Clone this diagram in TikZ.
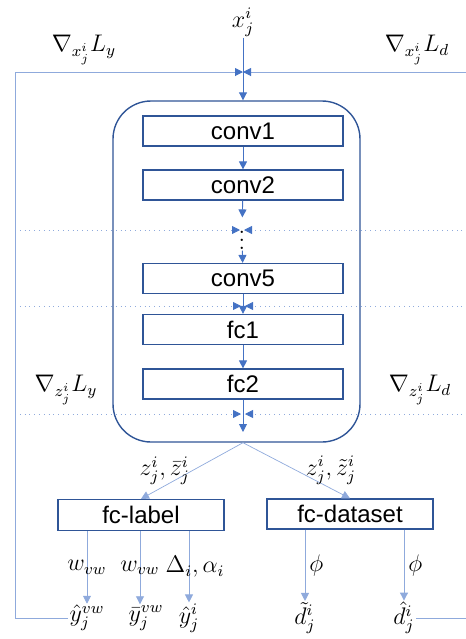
\documentclass[tikz,border=0pt]{standalone}
\usepackage{amsmath}
\usepackage{amssymb}
\usepackage{fontspec}
\newfontfamily\boxfont{Liberation Sans}
\usepackage{tikz}
\usetikzlibrary{positioning, shapes, arrows.meta}
\definecolor{boxblue}{RGB}{47,85,151}
\definecolor{arrowblue}{RGB}{68,114,196}
\definecolor{thinblue}{RGB}{143,170,220}

\begin{document}
\begin{tikzpicture}[x=0.5pt,y=-0.5pt,
>={Triangle[length=4pt,width=4pt]},
layer/.style={draw=boxblue,line width=0.6pt,minimum width=100pt,minimum height=15pt,inner sep=0pt,text=black,font=\boxfont\fontsize{12}{14}\selectfont},
netbox/.style={draw=boxblue,line width=0.7pt,rounded corners=19pt,minimum width=123.5pt,minimum height=170.5pt},
flow/.style={arrowblue,line width=0.45pt,->},
outline/.style={thinblue,line width=0.5pt},
gradback/.style={thinblue,line width=0.5pt,-{Triangle[length=4pt,width=4pt,color=arrowblue]}},
gradline/.style={thinblue,line width=0.4pt,dotted,-{Triangle[length=4pt,width=4pt,color=arrowblue]},shorten >=1pt},
mlabel/.style={font=\large,inner sep=0.5pt,text=black}
]
\useasboundingbox (0,0) rectangle (466,639);

% network
\node[netbox] (net) at (236.5,271.5) {};
\node[layer] (conv1) at (243,131) {conv1};
\node[layer] (conv2) at (243,185) {conv2};
\node[mlabel] (dots) at (242,234) {$\vdots$};
\node[layer] (conv5) at (243,278.5) {conv5};
\node[layer] (fc1) at (243,329.5) {fc1};
\node[layer] (fc2) at (243,384) {fc2};
\coordinate (zout) at (243,432);

% heads
\node[layer,minimum width=83pt,minimum height=15.5pt] (fclabel) at (141,515) {fc-label};
\node[layer,minimum width=83pt,minimum height=15pt] (fcdata) at (350,514) {fc-dataset};

% inputs, outputs and gradients
\node[mlabel] (xin) at (243,22) {$x_j^i$};
\node[mlabel] (gxy) at (84,50) {$\nabla_{x_j^i}L_y$};
\node[mlabel] (gxd) at (417,50) {$\nabla_{x_j^i}L_d$};
\node[mlabel] (gzy) at (66,390) {$\nabla_{z_j^i}L_y$};
\node[mlabel] (gzd) at (420,390) {$\nabla_{z_j^i}L_d$};
\node[mlabel] (yvw) at (87,618) {$\hat{y}_j^{vw}$};
\node[mlabel] (ybar) at (146,618) {$\bar{y}_j^{vw}$};
\node[mlabel] (yhat) at (189,618) {$\hat{y}_j^{i}$};
\node[mlabel] (dtil) at (305,618) {$\tilde{d}_j^{i}$};
\node[mlabel] (dhat) at (404,618) {$\hat{d}_j^{i}$};

\coordinate (tl) at (15,72);
\coordinate (tr) at (467,72);
\coordinate (dl1) at (15,230);
\coordinate (dr1) at (467,230);
\coordinate (dl2) at (15,306);
\coordinate (dr2) at (467,306);
\coordinate (dl3) at (15,414);
\coordinate (dr3) at (467,414);

% backward lines
\draw[outline] (tl) |- (yvw);
\draw[outline] (tr) |- (dhat);
\draw[gradback] (tl) -- (tl -| xin);
\draw[gradback] (tr) -- (tr -| xin);
\draw[gradline] (dl1) -- (dl1 -| dots);
\draw[gradline] (dr1) -- (dr1 -| dots);
\draw[gradline] (dl2) -- (dl2 -| conv5);
\draw[gradline] (dr2) -- (dr2 -| conv5);
\draw[gradline] (dl3) -- (dl3 -| fc2);
\draw[gradline] (dr3) -- (dr3 -| fc2);

% forward
\draw[flow] (xin) -- (net.north -| xin);
\draw[flow] (conv1) -- (conv2);
\draw[flow] (conv2) -- (dots);
\draw[flow] (dots) -- (conv5);
\draw[flow] (conv5) -- (fc1);
\draw[flow] (fc1) -- (fc2);
\draw[flow] (fc2) -- (zout);
\draw[flow,thinblue,line width=0.35pt] (net.south -| zout) -- (fclabel.north)
  node[mlabel,midway,left=0.5pt] {$z_j^i,\bar{z}_j^i$};
\draw[flow,thinblue,line width=0.35pt] (net.south -| zout) -- (fcdata.north)
  node[mlabel,midway,right=4pt] {$z_j^i,\tilde{z}_j^i$};

\draw[flow,thinblue] (fclabel.south -| yvw) -- (yvw) node[mlabel,midway] {$w_{vw}$};
\draw[flow,thinblue] ([xshift=-3pt]fclabel.south -| ybar) -- ([xshift=-3pt]ybar.north) node[mlabel,midway] {$w_{vw}$};
\draw[flow,thinblue] (fclabel.south -| yhat) -- (yhat) node[mlabel,midway,xshift=3pt] {$\Delta_i,\alpha_i$};
\draw[flow,thinblue] (fcdata.south -| dtil) -- (dtil) node[mlabel,midway,right=1.5pt] {$\phi$};
\draw[flow,thinblue] (fcdata.south -| dhat) -- (dhat) node[mlabel,midway,right=1.5pt] {$\phi$};
\end{tikzpicture}
\end{document}
